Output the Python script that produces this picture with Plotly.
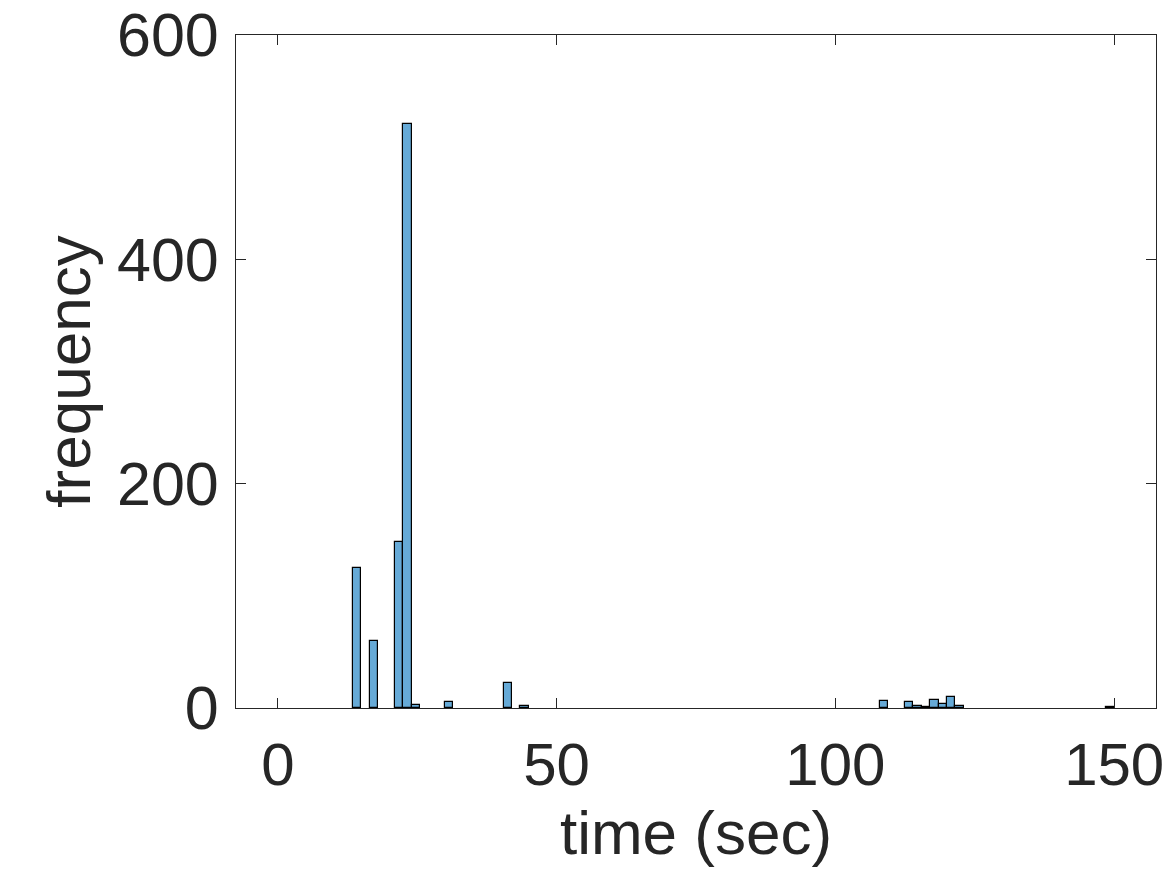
import plotly.graph_objects as go

# Histogram bins (left edges, sec) with non-zero counts; bin width 1.5 s
bin_left = [13.5, 16.5, 21.0, 22.5, 24.0, 30.0, 40.5, 43.5,
            108.0, 112.5, 114.0, 115.5, 117.0, 118.5, 120.0, 121.5, 148.5]
counts = [125, 60, 148, 521, 3, 5, 22, 2,
          6, 5, 2, 1, 7, 4, 10, 2, 1]
bin_width = 1.5
x_ticks = [0, 50, 100, 150]
y_ticks = [0, 200, 400, 600]

centers = [b + bin_width / 2 for b in bin_left]

ink = "#262626"
font_family = "Liberation Sans, Arial, Helvetica, sans-serif"

fig = go.Figure()
fig.add_trace(go.Bar(
    x=centers, y=counts, width=bin_width,
    marker=dict(color="#66AAD7", line=dict(color="#000000", width=1.2)),
    showlegend=False,
))

axis_common = dict(
    showgrid=False, zeroline=False, showline=True, linecolor=ink, linewidth=1,
    mirror="ticks", ticks="inside", ticklen=10, tickwidth=1, tickcolor=ink,
    automargin=False,
)

fig.update_layout(
    width=1167, height=875,
    margin=dict(l=236, r=11, t=35, b=167),
    paper_bgcolor="white", plot_bgcolor="white",
    bargap=0,
    xaxis=dict(range=[-7.5, 157.5], tickvals=x_ticks,
               tickfont=dict(family=font_family, size=60, color=ink),
               ticklabelstandoff=4,
               title=dict(text="time (sec)", font=dict(family=font_family, size=62, color=ink), standoff=0),
               **axis_common),
    yaxis=dict(range=[0, 600], tickvals=y_ticks,
               tickfont=dict(family=font_family, size=61, color=ink),
               ticklabelstandoff=4,
               title=dict(text="frequency", font=dict(family=font_family, size=62, color=ink), standoff=6),
               **axis_common),
)

fig.write_html("out.html")
